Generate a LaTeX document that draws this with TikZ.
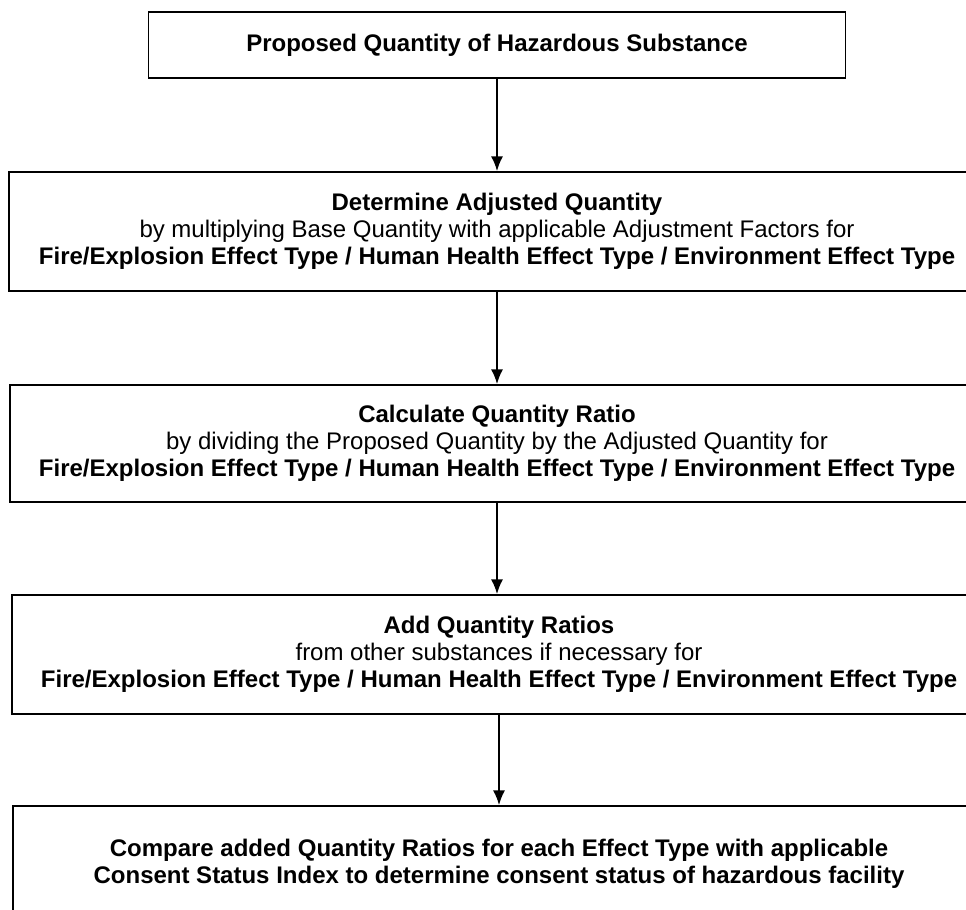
\documentclass[tikz,border=0pt]{standalone}
\usepackage{fontspec}
\setmainfont{Liberation Sans}
\usetikzlibrary{positioning,arrows.meta}

\tikzset{
  stepbox/.style={draw, line width=1.3pt, align=center, inner sep=0pt,
    font=\fontsize{18}{20.25}\selectfont},
  flow/.style={-{Latex[length=11pt,width=9pt]}, line width=1.4pt}
}

\begin{document}
\begin{tikzpicture}[x=0.75pt,y=-0.75pt]
\useasboundingbox (0,0) rectangle (966,909);
\node[stepbox, minimum width=522.75pt, minimum height=49.5pt] (qty) at (497,45)
  {\bfseries Proposed Quantity of Hazardous Substance};
\node[stepbox, minimum width=732pt, minimum height=89.25pt] (adj) at (497,231.5)
  {\bfseries Determine Adjusted Quantity\\
   by multiplying Base Quantity with applicable Adjustment Factors for\\
   \bfseries Fire/Explosion Effect Type / Human Health Effect Type / Environment Effect Type};
\node[stepbox, minimum width=730.5pt, minimum height=87.75pt] (ratio) at (497,443.5)
  {\bfseries Calculate Quantity Ratio\\
   by dividing the Proposed Quantity by the Adjusted Quantity for\\
   \bfseries Fire/Explosion Effect Type / Human Health Effect Type / Environment Effect Type};
\node[stepbox, minimum width=730.5pt, minimum height=89.25pt] (add) at (499,654.5)
  {\bfseries Add Quantity Ratios\\
   from other substances if necessary for\\
   \bfseries Fire/Explosion Effect Type / Human Health Effect Type / Environment Effect Type};
\node[stepbox, minimum width=729pt, minimum height=86.25pt] (cmp) at (499,863.5)
  {\bfseries Compare added Quantity Ratios for each Effect Type with applicable\\
   \bfseries Consent Status Index to determine consent status of hazardous facility};
% arrows between steps
\draw[flow] (qty.south) -- (qty.south |- adj.north);
\draw[flow] (adj.south) -- (adj.south |- ratio.north);
\draw[flow] (ratio.south) -- (ratio.south |- add.north);
\draw[flow] (add.south) -- (add.south |- cmp.north);
\end{tikzpicture}
\end{document}
